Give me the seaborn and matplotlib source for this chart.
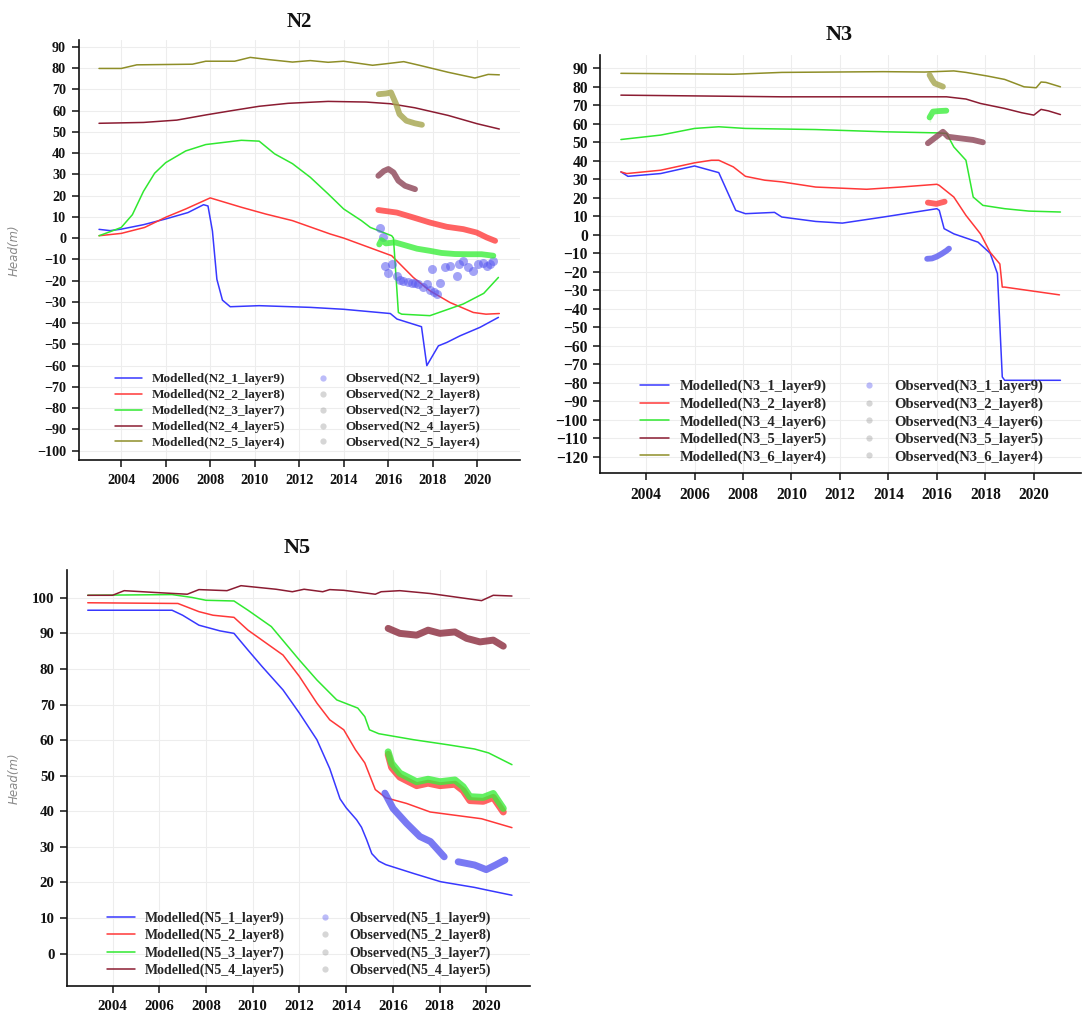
import matplotlib
matplotlib.use("Agg")
import matplotlib.pyplot as plt
import seaborn as sns
from matplotlib.lines import Line2D

# ---------------- N2 : modelled heads (m) ----------------
n2_mod_l9_t = [2003.0, 2003.5, 2004.0, 2005.0, 2006.0, 2007.0, 2007.7, 2007.9, 2008.1, 2008.3, 2008.55,
               2008.9, 2010.2, 2012.5, 2014.0, 2016.1, 2016.4, 2017.5, 2017.74, 2018.26, 2018.64,
               2019.23, 2020.13, 2020.96]
n2_mod_l9_h = [4.1, 3.5, 4.2, 6.3, 9.0, 12.0, 15.7, 15.1, 3.3, -19.4, -29.2,
               -32.3, -31.8, -32.6, -33.5, -35.5, -38.1, -41.7, -60.0, -50.7, -49.1,
               -46.0, -42.0, -37.3]
n2_mod_l8_t = [2003.0, 2004.0, 2005.05, 2006.0, 2006.9, 2008.0, 2009.4, 2010.5, 2011.7, 2013.4, 2014.0,
               2016.16, 2017.13, 2017.88, 2018.78, 2019.83, 2020.4, 2021.0]
n2_mod_l8_h = [1.1, 2.2, 5.0, 9.8, 13.7, 18.9, 14.5, 11.3, 8.2, 1.9, 0.0,
               -8.3, -18.5, -24.8, -30.3, -35.0, -35.8, -35.5]
n2_mod_l7_t = [2003.0, 2003.5, 2004.0, 2004.5, 2005.0, 2005.5, 2006.0, 2006.9, 2007.8, 2009.4, 2010.2,
               2010.9, 2011.7, 2012.5, 2013.3, 2014.0, 2014.8, 2015.2, 2016.16, 2016.24, 2016.46,
               2016.61, 2017.88, 2019.38, 2020.3, 2020.96]
n2_mod_l7_h = [1.1, 3.0, 5.0, 11.0, 22.0, 30.5, 35.5, 41.0, 44.0, 46.0, 45.6,
               39.6, 35.0, 28.6, 20.8, 13.7, 8.2, 5.0, 1.1, 0.0, -35.0,
               -35.8, -36.5, -31.0, -26.0, -18.5]
n2_mod_l5_t = [2003.0, 2005.0, 2006.5, 2007.84, 2009.0, 2010.2, 2011.5, 2013.3, 2015.0, 2016.1, 2017.2,
               2018.7, 2020.0, 2021.0]
n2_mod_l5_h = [54.0, 54.4, 55.5, 58.0, 60.0, 62.0, 63.4, 64.3, 64.0, 63.2, 61.3,
               57.7, 53.8, 51.3]
n2_mod_l4_t = [2003.0, 2004.0, 2004.7, 2007.2, 2007.8, 2009.1, 2009.8, 2010.6, 2011.7, 2012.5, 2013.3,
               2014.0, 2015.3, 2015.9, 2016.7, 2017.4, 2018.7, 2019.9, 2020.5, 2021.0]
n2_mod_l4_h = [79.8, 79.8, 81.5, 81.8, 83.2, 83.2, 85.0, 84.0, 82.8, 83.5, 82.7,
               83.2, 81.3, 82.0, 83.0, 81.3, 78.0, 75.3, 77.0, 76.8]

# ---------------- N2 : observed heads (m) ----------------
n2_obs_l9_t = [2015.64, 2015.79, 2015.86, 2016.01, 2016.16, 2016.39, 2016.55, 2016.69, 2016.9, 2017.06,
               2017.2, 2017.36, 2017.58, 2017.74, 2017.9, 2018.05, 2018.19, 2017.96, 2018.34, 2018.56,
               2018.78, 2019.08, 2019.2, 2019.38, 2019.61, 2019.83, 2020.06, 2020.28, 2020.45, 2020.58,
               2020.73]
n2_obs_l9_h = [4.7, 0.3, -13.0, -16.2, -12.2, -17.7, -19.5, -20.1, -20.5, -20.9,
               -21.2, -21.7, -23.2, -21.7, -24.5, -25.5, -26.3, -14.6, -20.9, -13.8,
               -13.0, -17.7, -12.0, -10.7, -13.8, -15.4, -12.2, -11.5, -13.0, -12.2,
               -10.7]
n2_obs_l8_t = [2015.56, 2016.39, 2017.13, 2017.88, 2018.64, 2019.38, 2019.98, 2020.43, 2020.81]
n2_obs_l8_h = [13.2, 12.0, 9.7, 7.3, 5.3, 4.2, 2.6, 0.3, -1.3]
n2_obs_l7_t = [2015.6, 2015.7, 2015.9, 2016.3, 2016.8, 2017.3, 2017.88, 2018.4, 2019.0, 2019.6, 2020.2,
               2020.73]
n2_obs_l7_h = [-3.0, -1.0, -2.5, -2.0, -3.5, -5.0, -6.0, -7.0, -7.5, -7.6, -7.6, -8.3]
n2_obs_l5_t = [2015.56, 2015.8, 2016.01, 2016.24, 2016.46, 2016.76, 2017.21]
n2_obs_l5_h = [29.3, 31.5, 32.5, 30.9, 27.0, 24.6, 23.0]
n2_obs_l4_t = [2015.58, 2015.9, 2016.13, 2016.36, 2016.51, 2016.82, 2017.2, 2017.52]
n2_obs_l4_h = [67.7, 68.0, 68.5, 63.0, 58.3, 55.2, 54.0, 53.3]

# ---------------- N3 : modelled heads (m) ----------------
n3_mod_l9_t = [2002.96, 2003.25, 2004.6, 2006.0, 2007.0, 2007.7, 2008.1, 2009.3, 2009.6, 2011.0, 2012.1,
               2013.8, 2016.0, 2016.1, 2016.3, 2016.7, 2017.7, 2018.2, 2018.5, 2018.7, 2018.8, 2021.1]
n3_mod_l9_h = [34.0, 31.6, 33.1, 37.2, 33.6, 13.2, 11.4, 12.1, 9.6, 7.2, 6.3,
               9.6, 14.1, 13.2, 3.3, 0.5, -4.0, -10.0, -21.0, -76.9, -78.7, -78.7]
n3_mod_l8_t = [2002.96, 2003.2, 2004.6, 2006.0, 2006.7, 2007.0, 2007.6, 2008.1, 2008.9, 2009.6, 2011.0,
               2013.1, 2014.5, 2016.0, 2016.1, 2016.7, 2017.2, 2017.8, 2018.2, 2018.6, 2018.7, 2018.8,
               2021.06]
n3_mod_l8_h = [34.0, 33.1, 34.9, 38.9, 40.3, 40.3, 36.7, 31.6, 29.5, 28.6, 25.8,
               24.6, 25.8, 27.3, 26.7, 20.4, 10.5, 0.5, -9.5, -15.8, -28.3, -28.3,
               -32.5]
n3_mod_l6_t = [2002.96, 2004.6, 2006.0, 2007.0, 2008.1, 2011.0, 2013.8, 2016.0, 2016.4, 2016.7, 2017.2,
               2017.5, 2017.9, 2018.8, 2019.8, 2021.1]
n3_mod_l6_h = [51.5, 53.9, 57.5, 58.4, 57.5, 56.9, 55.7, 55.1, 54.8, 47.5, 40.3,
               20.4, 15.9, 14.1, 12.8, 12.3]
n3_mod_l5_t = [2002.96, 2009.6, 2016.4, 2017.2, 2017.8, 2018.8, 2019.5, 2020.0, 2020.3, 2020.6, 2021.1]
n3_mod_l5_h = [75.5, 74.6, 74.6, 73.4, 71.0, 68.3, 66.0, 64.7, 67.8, 67.0, 65.0]
n3_mod_l4_t = [2002.96, 2007.6, 2009.6, 2013.8, 2015.5, 2016.7, 2017.2, 2018.1, 2018.8, 2019.6, 2020.1,
               2020.3, 2020.5, 2021.1]
n3_mod_l4_h = [87.3, 86.8, 87.8, 88.2, 88.0, 88.6, 87.8, 85.8, 84.0, 80.0, 79.5,
               82.6, 82.4, 80.0]

# ---------------- N3 : observed heads (m) ----------------
n3_obs_l9_t = [2015.6, 2015.8, 2016.0, 2016.2, 2016.4, 2016.5]
n3_obs_l9_h = [-13.0, -12.8, -11.8, -10.3, -8.6, -7.5]
n3_obs_l8_t = [2015.63, 2015.98, 2016.32]
n3_obs_l8_h = [17.4, 16.7, 17.9]
n3_obs_l6_t = [2015.70, 2015.70, 2015.84, 2016.1, 2016.39]
n3_obs_l6_h = [61.2, 65.7, 66.6, 66.9, 67.1]
n3_obs_l5_t = [2015.63, 2015.98, 2016.25, 2016.46, 2016.94, 2017.49, 2017.9]
n3_obs_l5_h = [49.5, 53.0, 55.7, 53.0, 52.2, 51.3, 50.0]
n3_obs_l4_t = [2015.70, 2015.8, 2015.91, 2016.25]
n3_obs_l4_h = [86.4, 84.0, 81.9, 80.1]

# ---------------- N5 : modelled heads (m) ----------------
n5_mod_l9_t = [2002.94, 2006.55, 2007.0, 2007.7, 2008.6, 2009.2, 2009.8, 2010.4, 2011.3, 2012.0, 2012.75,
               2013.3, 2013.74, 2014.0, 2014.45, 2014.66, 2014.88, 2015.1, 2015.4, 2015.7, 2016.9,
               2018.05, 2019.5, 2020.0, 2021.1]
n5_mod_l9_h = [96.5, 96.5, 95.1, 92.3, 90.7, 90.0, 85.3, 80.7, 74.1, 67.6, 60.1,
               52.0, 43.5, 41.0, 37.6, 35.5, 32.0, 28.1, 26.0, 25.0, 22.5,
               20.2, 18.6, 17.9, 16.4]
n5_mod_l8_t = [2002.94, 2006.8, 2007.7, 2008.3, 2009.2, 2009.8, 2010.4, 2011.3, 2012.0, 2012.75, 2013.3,
               2013.9, 2014.4, 2014.8, 2015.25, 2015.7, 2016.59, 2017.6, 2019.8, 2021.1]
n5_mod_l8_h = [98.6, 98.4, 96.1, 95.1, 94.5, 90.9, 88.1, 83.9, 77.9, 70.4, 65.7,
               62.9, 57.3, 53.6, 46.1, 43.8, 42.2, 39.8, 37.9, 35.4]
n5_mod_l7_t = [2002.94, 2006.55, 2007.4, 2008.0, 2009.2, 2009.8, 2010.8, 2011.4, 2012.0, 2012.75, 2013.6,
               2014.5, 2014.8, 2015.0, 2015.4, 2016.9, 2018.35, 2019.5, 2020.1, 2021.1]
n5_mod_l7_h = [100.7, 100.9, 100.1, 99.3, 99.1, 96.5, 91.9, 87.2, 82.5, 76.9, 71.3,
               69.0, 66.6, 62.9, 61.8, 60.1, 58.7, 57.5, 56.4, 53.1]
n5_mod_l5_t = [2002.94, 2004.0, 2004.5, 2005.8, 2007.2, 2007.7, 2008.9, 2009.5, 2011.0, 2011.7, 2012.2,
               2013.0, 2013.3, 2013.9, 2015.25, 2015.5, 2016.3, 2017.6, 2019.8, 2020.3, 2021.1]
n5_mod_l5_h = [100.7, 100.7, 102.0, 101.5, 101.0, 102.3, 102.0, 103.4, 102.4, 101.7, 102.4,
               101.7, 102.3, 102.1, 101.0, 101.7, 102.0, 101.2, 99.2, 100.7, 100.5]

# ---------------- N5 : observed heads (m) ----------------
n5_obs_l9a_t = [2015.66, 2016.01, 2016.59, 2017.16, 2017.61, 2018.2]
n5_obs_l9a_h = [45.1, 40.8, 36.6, 32.9, 31.5, 27.2]
n5_obs_l9b_t = [2018.8, 2019.5, 2020.0, 2020.4, 2020.8]
n5_obs_l9b_h = [25.8, 24.9, 23.6, 24.9, 26.3]
n5_obs_l8_t = [2015.80, 2015.95, 2016.30, 2017.02, 2017.51, 2018.02, 2018.66, 2019.01, 2019.30, 2019.87,
               2020.30, 2020.73]
n5_obs_l8_h = [56.0, 52.3, 49.6, 47.2, 47.9, 47.2, 47.6, 45.8, 43.0, 42.8, 43.9, 39.8]
n5_obs_l7_t = [2015.80, 2015.95, 2016.30, 2017.02, 2017.51, 2018.02, 2018.66, 2019.01, 2019.30, 2019.87,
               2020.30, 2020.73]
n5_obs_l7_h = [56.7, 53.5, 50.7, 48.3, 49.0, 48.3, 48.8, 46.9, 44.1, 43.9, 45.0, 40.8]
n5_obs_l5_t = [2015.80, 2016.30, 2017.02, 2017.51, 2018.02, 2018.66, 2019.16, 2019.73, 2020.30, 2020.73]
n5_obs_l5_h = [91.4, 90.0, 89.5, 90.9, 90.0, 90.4, 88.6, 87.6, 88.1, 86.4]

year_ticks = list(range(2004, 2021, 2))

BLUE, RED, GREEN, MAROON, OLIVE = '#3838ff', '#ff3838', '#30e830', '#8b1c32', '#8e8e28'
OBS_BLUE, OBS_RED, OBS_GREEN = '#5858f0', '#ff3c3c', '#3cee3c'
OBS_MAROON, OBS_OLIVE = '#8c4456', '#a4a44c'

SERIF = 'Liberation Serif'

sns.set_theme(style='white')
plt.rcParams['font.family'] = [SERIF, 'DejaVu Serif']
plt.rcParams['axes.unicode_minus'] = True


def draw_panel(ax, modelled, observed, xlim, ylim, yticks, fsize, obs_lw,
               leg_anchor, ylabel=True):
    for t, h, c, lab in modelled:
        sns.lineplot(x=t, y=h, color=c, lw=1.1, ax=ax, sort=False, zorder=3)
    for t, h, c, lab, kind in observed:
        if kind == 'scatter':
            sns.scatterplot(x=t, y=h, color=c, s=42, alpha=0.55, linewidth=0, ax=ax, zorder=4)
        else:
            sns.lineplot(x=t, y=h, color=c, lw=obs_lw, alpha=0.8, ax=ax, sort=False,
                         zorder=4, solid_capstyle='round', solid_joinstyle='round')

    ax.set_xlim(*xlim)
    ax.set_ylim(*ylim)
    ax.set_xticks(year_ticks)
    ax.set_yticks(yticks)
    ax.grid(True, color='#ededed', lw=0.8)
    ax.set_axisbelow(True)
    sns.despine(ax=ax)
    for side in ('left', 'bottom'):
        ax.spines[side].set_color('#111111')
        ax.spines[side].set_linewidth(1.2)
    ax.tick_params(axis='both', direction='out', length=5, width=1.1, color='#111111',
                   labelsize=fsize + 0.7, labelcolor='#111111', left=True, bottom=True)
    ax.tick_params(axis='x', pad=5)
    ax.tick_params(axis='y', pad=4)
    for lbl in ax.get_xticklabels() + ax.get_yticklabels():
        lbl.set_fontweight('bold')
    ax.set_xlabel('')
    if ylabel:
        ax.set_ylabel('Head(m)', fontsize=8.5, color='#8a8a8a', style='italic',
                      family='DejaVu Sans')
    else:
        ax.set_ylabel('')

    handles = [Line2D([], [], color=c, lw=1.1) for _, _, c, _ in modelled]
    labels = [lab for _, _, _, lab in modelled]
    seen = []
    for t, h, c, lab, kind in observed:
        if lab is None or lab in seen:
            continue
        seen.append(lab)
        mc = c if c in (OBS_BLUE,) else '#9a9a9a'
        handles.append(Line2D([], [], ls='none', marker='o', ms=4.5, mew=0, color=mc, alpha=0.4))
        labels.append(lab)
    ax.legend(handles, labels, ncol=2, loc='lower left', bbox_to_anchor=leg_anchor,
              frameon=False, borderpad=0, borderaxespad=0, handlelength=2.0,
              handletextpad=0.75, columnspacing=1.85, labelspacing=0.28,
              prop={'family': SERIF, 'weight': 'bold', 'size': fsize})


fig = plt.figure(figsize=(10.82, 10.17), dpi=100)
ax2 = fig.add_axes([0.0726, 0.5477, 0.408, 0.413])
ax3 = fig.add_axes([0.5548, 0.5346, 0.4443, 0.4113])
ax5 = fig.add_axes([0.0621, 0.0305, 0.4281, 0.409])

draw_panel(
    ax2,
    [(n2_mod_l9_t, n2_mod_l9_h, BLUE, 'Modelled(N2_1_layer9)'),
     (n2_mod_l8_t, n2_mod_l8_h, RED, 'Modelled(N2_2_layer8)'),
     (n2_mod_l7_t, n2_mod_l7_h, GREEN, 'Modelled(N2_3_layer7)'),
     (n2_mod_l5_t, n2_mod_l5_h, MAROON, 'Modelled(N2_4_layer5)'),
     (n2_mod_l4_t, n2_mod_l4_h, OLIVE, 'Modelled(N2_5_layer4)')],
    [(n2_obs_l9_t, n2_obs_l9_h, OBS_BLUE, 'Observed(N2_1_layer9)', 'scatter'),
     (n2_obs_l8_t, n2_obs_l8_h, OBS_RED, 'Observed(N2_2_layer8)', 'line'),
     (n2_obs_l7_t, n2_obs_l7_h, OBS_GREEN, 'Observed(N2_3_layer7)', 'line'),
     (n2_obs_l5_t, n2_obs_l5_h, OBS_MAROON, 'Observed(N2_4_layer5)', 'line'),
     (n2_obs_l4_t, n2_obs_l4_h, OBS_OLIVE, 'Observed(N2_5_layer4)', 'line')],
    xlim=(2002.08, 2021.93), ylim=(-104.4, 93.2), yticks=list(range(-100, 91, 10)),
    fsize=9.5, obs_lw=4.2, leg_anchor=(0.083, 0.026))

draw_panel(
    ax3,
    [(n3_mod_l9_t, n3_mod_l9_h, BLUE, 'Modelled(N3_1_layer9)'),
     (n3_mod_l8_t, n3_mod_l8_h, RED, 'Modelled(N3_2_layer8)'),
     (n3_mod_l6_t, n3_mod_l6_h, GREEN, 'Modelled(N3_4_layer6)'),
     (n3_mod_l5_t, n3_mod_l5_h, MAROON, 'Modelled(N3_5_layer5)'),
     (n3_mod_l4_t, n3_mod_l4_h, OLIVE, 'Modelled(N3_6_layer4)')],
    [(n3_obs_l9_t, n3_obs_l9_h, OBS_BLUE, 'Observed(N3_1_layer9)', 'line'),
     (n3_obs_l8_t, n3_obs_l8_h, OBS_RED, 'Observed(N3_2_layer8)', 'line'),
     (n3_obs_l6_t, n3_obs_l6_h, OBS_GREEN, 'Observed(N3_4_layer6)', 'line'),
     (n3_obs_l5_t, n3_obs_l5_h, OBS_MAROON, 'Observed(N3_5_layer5)', 'line'),
     (n3_obs_l4_t, n3_obs_l4_h, OBS_OLIVE, 'Observed(N3_6_layer4)', 'line')],
    xlim=(2002.11, 2021.95), ylim=(-129.0, 97.2), yticks=list(range(-120, 91, 10)),
    fsize=10.5, obs_lw=4.2, leg_anchor=(0.0826, 0.023), ylabel=False)

draw_panel(
    ax5,
    [(n5_mod_l9_t, n5_mod_l9_h, BLUE, 'Modelled(N5_1_layer9)'),
     (n5_mod_l8_t, n5_mod_l8_h, RED, 'Modelled(N5_2_layer8)'),
     (n5_mod_l7_t, n5_mod_l7_h, GREEN, 'Modelled(N5_3_layer7)'),
     (n5_mod_l5_t, n5_mod_l5_h, MAROON, 'Modelled(N5_4_layer5)')],
    [(n5_obs_l9a_t, n5_obs_l9a_h, OBS_BLUE, 'Observed(N5_1_layer9)', 'line'),
     (n5_obs_l9b_t, n5_obs_l9b_h, OBS_BLUE, None, 'line'),
     (n5_obs_l8_t, n5_obs_l8_h, OBS_RED, 'Observed(N5_2_layer8)', 'line'),
     (n5_obs_l7_t, n5_obs_l7_h, OBS_GREEN, 'Observed(N5_3_layer7)', 'line'),
     (n5_obs_l5_t, n5_obs_l5_h, '#8a2a3c', 'Observed(N5_4_layer5)', 'line')],
    xlim=(2002.06, 2021.89), ylim=(-9.1, 107.8), yticks=list(range(0, 101, 10)),
    fsize=10.0, obs_lw=5.0, leg_anchor=(0.0855, 0.0216))

ax2.yaxis.set_label_coords(-0.13, 0.5)
ax5.yaxis.set_label_coords(-0.10, 0.5)

title_kw = dict(ha='center', va='center', fontweight='bold', family=SERIF, color='#111111')
fig.text(299 / 1082, 1 - 21.7 / 1017, 'N2', fontsize=15, **title_kw)
fig.text(839.6 / 1082, 1 - 35 / 1017, 'N3', fontsize=16, **title_kw)
fig.text(297 / 1082, 1 - 548 / 1017, 'N5', fontsize=16, **title_kw)

fig.savefig('out.png', dpi=100)
